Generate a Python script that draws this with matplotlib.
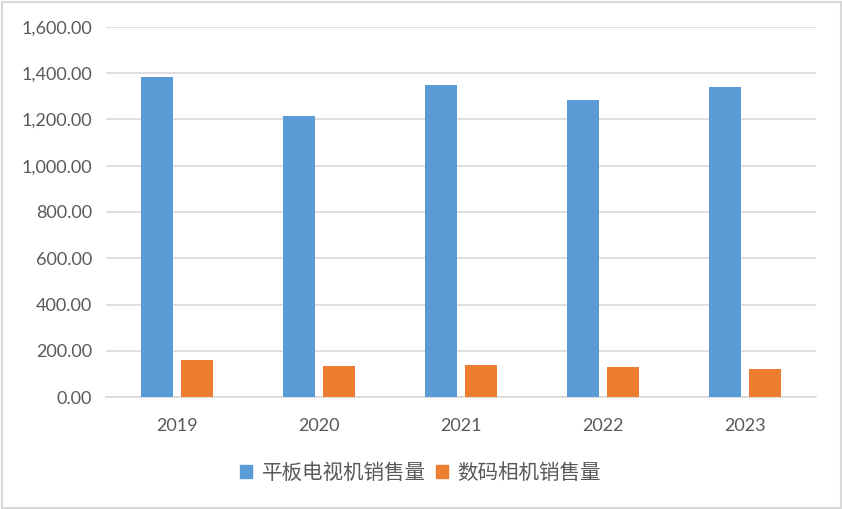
import numpy as np
import matplotlib
matplotlib.use("Agg")
from matplotlib import pyplot as plt
from matplotlib.patches import Patch, Rectangle
from matplotlib.ticker import FuncFormatter

years = ["2019", "2020", "2021", "2022", "2023"]
tv_sales = [1384, 1213, 1349, 1284, 1341]
camera_sales = [160, 134, 138, 129, 121]
series_names = ["平板电视机销售量", "数码相机销售量"]
y_ticks = [0, 200, 400, 600, 800, 1000, 1200, 1400, 1600]

BLUE = "#5B9BD5"
ORANGE = "#ED7D31"
GRID = "#D9D9D9"
TEXT = "#595959"

plt.rcParams['font.family'] = ['Lato', 'Noto Sans CJK SC', 'DejaVu Sans']

fig = plt.figure(figsize=(8.42, 5.09), dpi=100)
ax = fig.add_axes([106 / 842, 1 - 397.3 / 509, 710 / 842, 370.6 / 509])

x = np.arange(len(years))
w = 0.225
off = 0.144
ax.bar(x - off, tv_sales, w, color=BLUE, zorder=3)
ax.bar(x + off, camera_sales, w, color=ORANGE, zorder=3)

ax.set_xlim(-0.5, len(years) - 0.5)
ax.set_ylim(0, 1600)
ax.set_yticks(y_ticks)
ax.yaxis.set_major_formatter(FuncFormatter(lambda v, p: f"{v:,.2f}"))
ax.set_xticks(x)
ax.set_xticklabels(years)
ax.tick_params(axis='y', length=0, pad=10, labelsize=13, labelcolor=TEXT)
ax.tick_params(axis='x', length=0, pad=15, labelsize=13, labelcolor=TEXT)

ax.grid(axis='y', color=GRID, linewidth=1.2, zorder=0)
for s in ["top", "right", "left"]:
    ax.spines[s].set_visible(False)
ax.spines["bottom"].set_color(GRID)
ax.spines["bottom"].set_linewidth(1.2)

handles = [Patch(color=BLUE), Patch(color=ORANGE)]
fig.legend(handles, series_names, loc='center', bbox_to_anchor=(0.4994, 1 - 473 / 509),
           ncol=2, frameon=False, handlelength=0.6, handleheight=0.6,
           handletextpad=0.45, columnspacing=0.5,
           prop={'family': ['Noto Sans CJK SC'], 'size': 14.8}, labelcolor=TEXT)

# light border round the whole chart
fig.patches.append(Rectangle((1.5 / 842, 1.5 / 509), 1 - 3 / 842, 1 - 3 / 509,
                             transform=fig.transFigure, fill=False,
                             edgecolor=GRID, linewidth=1.5))

fig.savefig("out.png", dpi=100, facecolor="white")
